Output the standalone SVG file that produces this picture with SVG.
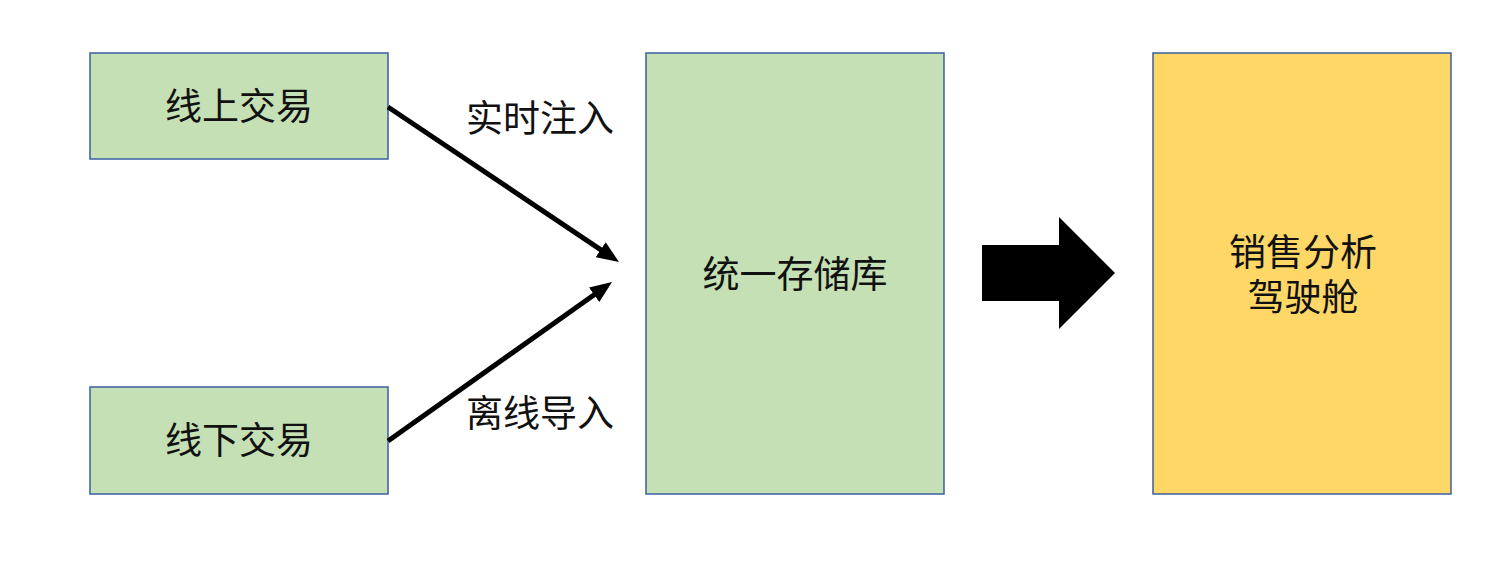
<svg xmlns="http://www.w3.org/2000/svg" width="1505" height="579" viewBox="0 0 1505 579">
<style>
.box{stroke:#3A5FA0;stroke-width:1.5}
.g{fill:#C5E0B4}
.y{fill:#FED766}
.t{font-family:"Liberation Sans","Noto Sans CJK SC",sans-serif;font-size:37px;fill:#111;text-anchor:middle;dominant-baseline:central}
.c{stroke:#000;stroke-width:5;fill:none}
</style>
<defs>
<marker id="ah" markerUnits="userSpaceOnUse" markerWidth="22" markerHeight="18" refX="7" refY="9" orient="auto">
<path d="M0,0 L22,9 L0,18 z" fill="#000"/>
</marker>
</defs>
<rect width="1505" height="579" fill="#fff"/>
<g id="online">
<rect class="box g" x="90" y="53" width="298" height="106"/>
<text class="t" x="239" y="107">线上交易</text>
</g>
<g id="offline">
<rect class="box g" x="90" y="387" width="298" height="107"/>
<text class="t" x="239" y="441">线下交易</text>
</g>
<g id="storage">
<rect class="box g" x="646" y="53" width="298" height="441"/>
<text class="t" x="795" y="275">统一存储库</text>
</g>
<g id="cockpit">
<rect class="box y" x="1153" y="53" width="298" height="441"/>
<text class="t" x="1303" y="253">销售分析</text>
<text class="t" x="1303" y="298">驾驶舱</text>
</g>
<g id="connectors">
<line class="c" x1="388" y1="107" x2="606.5" y2="253.6" marker-end="url(#ah)"/>
<line class="c" x1="388" y1="441" x2="599.8" y2="290.7" marker-end="url(#ah)"/>
<text class="t" x="540" y="119">实时注入</text>
<text class="t" x="540" y="414">离线导入</text>
<polygon points="982,245 1059,245 1059,217 1115,273 1059,329 1059,301 982,301" fill="#000"/>
</g>
</svg>
